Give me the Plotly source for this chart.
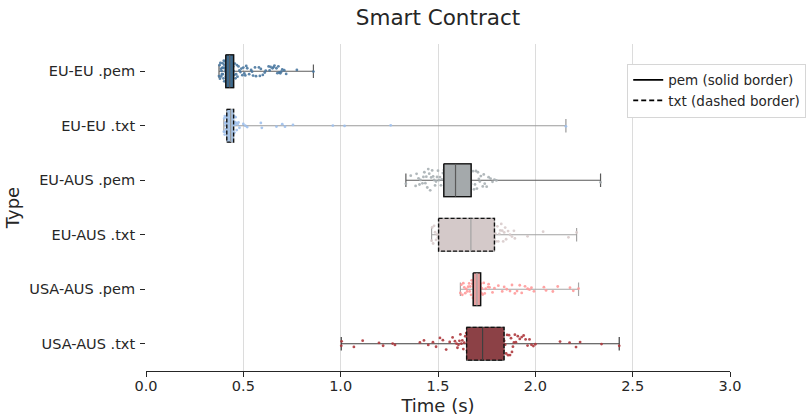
import plotly.graph_objects as go

# Categories (top to bottom)
categories = ["EU-EU .pem", "EU-EU .txt", "EU-AUS .pem", "EU-AUS .txt",
              "USA-AUS .pem", "USA-AUS .txt"]
file_kind = ["pem", "txt", "pem", "txt", "pem", "txt"]

# Box statistics (seconds); whiskers span min..max
lower = [0.375, 0.400, 1.335, 1.467, 1.615, 1.003]
q1 = [0.410, 0.415, 1.530, 1.503, 1.681, 1.647]
median = [0.430, 0.435, 1.590, 1.669, 1.700, 1.729]
q3 = [0.450, 0.450, 1.670, 1.790, 1.719, 1.839]
upper = [0.860, 2.157, 2.335, 2.212, 2.222, 2.431]

# Individual measurements (seconds)
eu_eu_pem = [0.375, 0.378, 0.380, 0.382, 0.385, 0.386, 0.388, 0.390, 0.391, 0.393,
             0.395, 0.396, 0.398, 0.400, 0.401, 0.402, 0.404, 0.405, 0.407, 0.408,
             0.410, 0.411, 0.412, 0.414, 0.415, 0.416, 0.417, 0.419, 0.420, 0.421,
             0.422, 0.423, 0.425, 0.426, 0.427, 0.428, 0.429, 0.430, 0.431, 0.432,
             0.433, 0.435, 0.436, 0.437, 0.439, 0.440, 0.442, 0.444, 0.446, 0.448,
             0.450, 0.453, 0.456, 0.460, 0.463, 0.467, 0.470, 0.475, 0.480, 0.485,
             0.490, 0.495, 0.500, 0.505, 0.510, 0.515, 0.520, 0.530, 0.540, 0.545,
             0.550, 0.560, 0.565, 0.580, 0.585, 0.590, 0.600, 0.610, 0.615, 0.630,
             0.635, 0.640, 0.650, 0.655, 0.660, 0.670, 0.675, 0.680, 0.685, 0.690,
             0.695, 0.700, 0.710, 0.720, 0.775, 0.860]
eu_eu_txt = [0.400, 0.402, 0.404, 0.405, 0.407, 0.408, 0.410, 0.411, 0.412, 0.414,
             0.415, 0.416, 0.418, 0.419, 0.420, 0.421, 0.422, 0.424, 0.425, 0.426,
             0.428, 0.429, 0.430, 0.431, 0.432, 0.434, 0.435, 0.436, 0.437, 0.438,
             0.440, 0.441, 0.442, 0.443, 0.445, 0.446, 0.447, 0.449, 0.450, 0.452,
             0.454, 0.456, 0.458, 0.460, 0.463, 0.466, 0.470, 0.475, 0.480, 0.500,
             0.510, 0.520, 0.590, 0.595, 0.670, 0.700, 0.714, 0.755, 0.960, 1.020,
             1.257, 2.157]
eu_aus_pem = [1.335, 1.360, 1.385, 1.390, 1.400, 1.405, 1.410, 1.420, 1.425, 1.430,
              1.435, 1.440, 1.445, 1.450, 1.455, 1.460, 1.465, 1.470, 1.475, 1.480,
              1.485, 1.490, 1.495, 1.500, 1.505, 1.510, 1.515, 1.520, 1.525, 1.530,
              1.540, 1.545, 1.550, 1.555, 1.560, 1.565, 1.570, 1.575, 1.580, 1.585,
              1.590, 1.595, 1.600, 1.605, 1.610, 1.615, 1.620, 1.630, 1.640, 1.650,
              1.660, 1.670, 1.680, 1.685, 1.690, 1.695, 1.700, 1.705, 1.710, 1.715,
              1.720, 1.730, 1.735, 1.740, 1.750, 1.760, 1.770, 1.780, 1.790, 1.800,
              2.335]
eu_aus_txt = [1.467, 1.470, 1.475, 1.480, 1.485, 1.490, 1.495, 1.500, 1.510, 1.520,
              1.530, 1.540, 1.550, 1.560, 1.570, 1.580, 1.590, 1.600, 1.610, 1.620,
              1.630, 1.640, 1.650, 1.660, 1.670, 1.680, 1.690, 1.700, 1.710, 1.720,
              1.730, 1.740, 1.750, 1.760, 1.770, 1.780, 1.790, 1.795, 1.800, 1.805,
              1.810, 1.815, 1.820, 1.825, 1.830, 1.835, 1.840, 1.845, 1.850, 1.860,
              1.870, 1.880, 1.890, 1.895, 1.960, 2.040, 2.170, 2.212]
usa_aus_pem = [1.615, 1.620, 1.625, 1.630, 1.635, 1.640, 1.645, 1.650, 1.655, 1.660,
               1.663, 1.666, 1.670, 1.673, 1.676, 1.680, 1.682, 1.684, 1.686, 1.688,
               1.690, 1.692, 1.694, 1.696, 1.698, 1.700, 1.702, 1.704, 1.706, 1.708,
               1.710, 1.712, 1.714, 1.716, 1.718, 1.720, 1.723, 1.726, 1.730, 1.735,
               1.740, 1.745, 1.757, 1.760, 1.765, 1.780, 1.790, 1.810, 1.830, 1.840,
               1.853, 1.870, 1.880, 1.895, 1.906, 1.920, 1.930, 1.947, 1.960, 1.970,
               1.980, 1.993, 2.044, 2.055, 2.090, 2.115, 2.178, 2.195, 2.222]
usa_aus_txt = [1.003, 1.005, 1.068, 1.113, 1.197, 1.218, 1.267, 1.279, 1.407, 1.428,
               1.450, 1.474, 1.490, 1.510, 1.525, 1.542, 1.560, 1.575, 1.587, 1.595,
               1.600, 1.605, 1.610, 1.615, 1.620, 1.625, 1.630, 1.635, 1.640, 1.645,
               1.650, 1.655, 1.660, 1.665, 1.670, 1.675, 1.680, 1.685, 1.690, 1.695,
               1.700, 1.705, 1.710, 1.715, 1.720, 1.725, 1.730, 1.735, 1.740, 1.745,
               1.750, 1.755, 1.760, 1.765, 1.770, 1.775, 1.780, 1.785, 1.790, 1.795,
               1.800, 1.805, 1.810, 1.815, 1.820, 1.825, 1.830, 1.835, 1.840, 1.845,
               1.850, 1.855, 1.860, 1.865, 1.870, 1.875, 1.880, 1.885, 1.890, 1.895,
               1.900, 1.910, 1.920, 1.930, 1.940, 1.950, 1.960, 1.970, 1.980, 1.990,
               2.000, 2.127, 2.176, 2.209, 2.230, 2.340, 2.431]
samples = [eu_eu_pem, eu_eu_txt, eu_aus_pem, eu_aus_txt, usa_aus_pem, usa_aus_txt]

x_ticks = [0.0, 0.5, 1.0, 1.5, 2.0, 2.5, 3.0]

# Styling
box_colors = ["#3f6b8e", "#a7c4e6", "#a4a9ab", "#d4c9c9", "#e79f9f", "#8c4146"]
point_colors = ["#4a78a0", "#9fc0ec", "#a9b0b4", "#d8cbcb", "#ff9a9a", "#ae383d"]
line_grays = ["#5e5e5e", "#9a9a9a", "#5a5a5a", "#a3a3a3", "#a6a6a6", "#3f3f3f"]
text_color = "#262626"
font_family = "DejaVu Sans"
half_w = 0.3  # half box height in category units

fig = go.Figure()

for i, cat in enumerate(categories):
    # whiskers + caps
    fig.add_trace(go.Box(
        y=[i], q1=[q1[i]], median=[median[i]], q3=[q3[i]],
        lowerfence=[lower[i]], upperfence=[upper[i]],
        orientation="h", width=2 * half_w, whiskerwidth=0.42,
        fillcolor=box_colors[i], line=dict(color=line_grays[i], width=1.2),
        boxpoints=False, showlegend=False, hoverinfo="skip",
    ))
    # box body with solid / dashed border
    dash = "solid" if file_kind[i] == "pem" else "4px,2px"
    fig.add_trace(go.Scatter(
        x=[q1[i], q3[i], q3[i], q1[i], q1[i]],
        y=[i - half_w, i - half_w, i + half_w, i + half_w, i - half_w],
        mode="lines", fill="toself", fillcolor=box_colors[i],
        line=dict(color="#111111", width=1.4, dash=dash),
        showlegend=False, hoverinfo="skip",
    ))
    # median line
    fig.add_trace(go.Scatter(
        x=[median[i], median[i]], y=[i - half_w, i + half_w],
        mode="lines", line=dict(color=line_grays[i], width=1.2),
        showlegend=False, hoverinfo="skip",
    ))
    # jittered individual measurements
    fig.add_trace(go.Box(
        x=samples[i], y0=i, orientation="h", width=2 * half_w,
        boxpoints="all", jitter=0.7, pointpos=0,
        marker=dict(color=point_colors[i], size=2.8, opacity=0.9),
        line=dict(color="rgba(0,0,0,0)", width=0),
        fillcolor="rgba(0,0,0,0)", showlegend=False, hoverinfo="skip",
    ))

# legend entries for border style
fig.add_trace(go.Scatter(x=[None], y=[None], mode="lines", name="pem (solid border)",
                         line=dict(color="black", width=1.8)))
fig.add_trace(go.Scatter(x=[None], y=[None], mode="lines", name="txt (dashed border)",
                         line=dict(color="black", width=1.8, dash="5px,3px")))

fig.update_layout(
    width=809, height=416,
    margin=dict(l=146, r=79, t=44, b=45, autoexpand=False),
    paper_bgcolor="white", plot_bgcolor="white",
    font=dict(family=font_family, color=text_color, size=14.5),
    boxmode="overlay",
    title=dict(text="Smart Contract", x=0.5, xref="paper", xanchor="center",
               y=0.957, yanchor="middle", font=dict(size=21.5, color=text_color)),
    legend=dict(x=0.824, y=0.94, xanchor="left", yanchor="top",
                bgcolor="white", bordercolor="#d6d6d6", borderwidth=1,
                font=dict(size=13.5, color=text_color), tracegroupgap=0,
                itemwidth=30),
    xaxis=dict(range=[0, 3], tickvals=x_ticks,
               ticktext=[f"{v:.1f}" for v in x_ticks],
               showgrid=True, gridcolor="#dcdcdc", gridwidth=1,
               showline=True, linecolor=text_color, linewidth=1.25,
               ticks="outside", ticklen=5, tickcolor=text_color, tickwidth=1.25,
               ticklabelstandoff=-4,
               zeroline=False, tickfont=dict(size=14.5), automargin=False,
               title=dict(text="Time (s)", font=dict(size=18), standoff=6)),
    yaxis=dict(range=[5.5, -0.5], tickvals=list(range(len(categories))),
               ticktext=categories, showgrid=False, zeroline=False,
               showline=False, ticks="outside", ticklen=5, automargin=False,
               ticklabelstandoff=2,
               tickcolor=text_color, tickwidth=1.25, tickfont=dict(size=14.5),
               title=dict(text="Type", font=dict(size=18), standoff=4)),
)

fig.write_html("out.html")
